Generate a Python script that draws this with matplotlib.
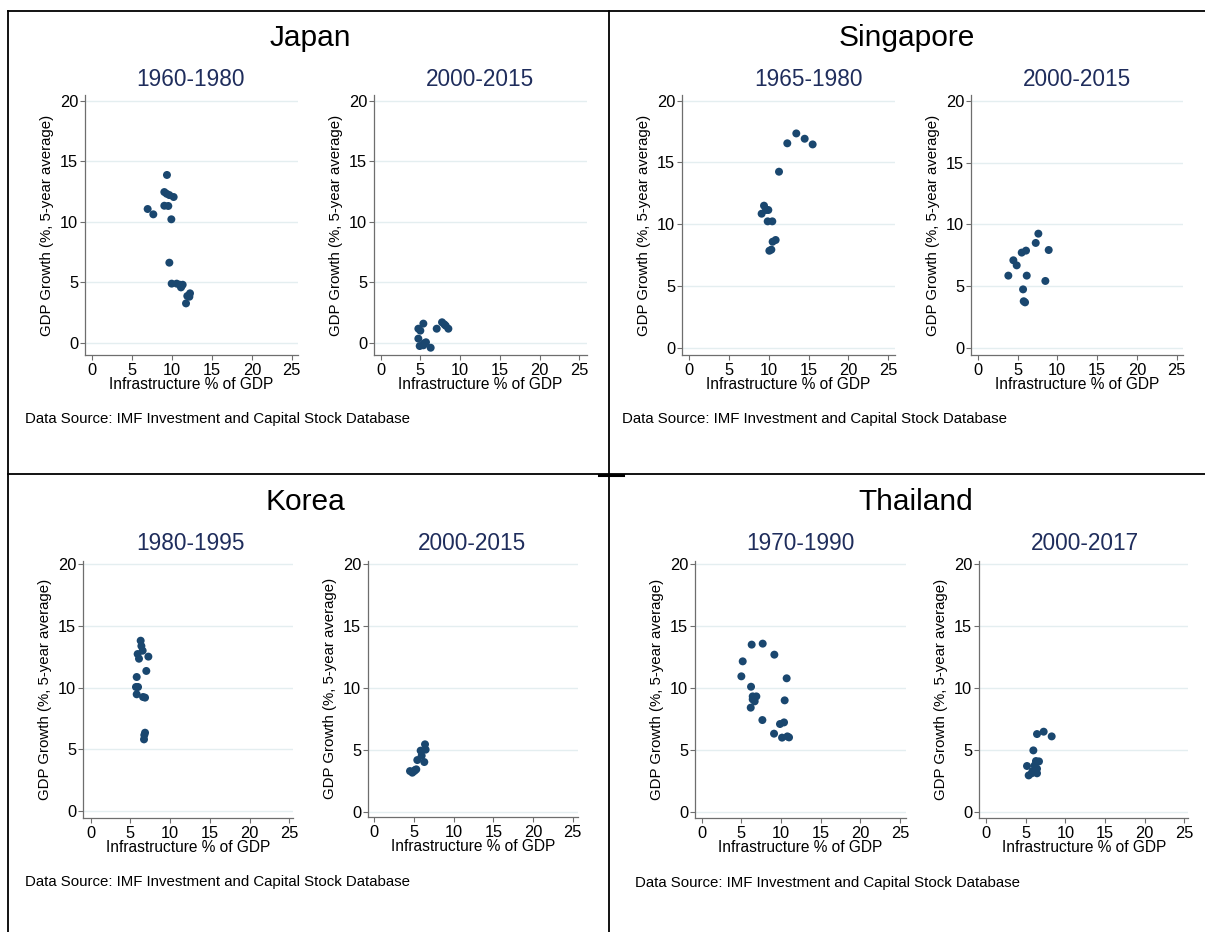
import numpy as np
import matplotlib
matplotlib.use("Agg")
import matplotlib.pyplot as plt
from matplotlib.lines import Line2D

plt.rcParams['font.family'] = ['Liberation Sans', 'DejaVu Sans']

W, H = 1205, 932
NAVY = '#1a476f'

# ---- data (infrastructure % of GDP, GDP growth %) ----
japan_early_x = [6.94, 7.65, 9.36, 9.03, 9.32, 9.66, 10.2, 9.03, 9.53, 9.91, 9.66,
                 9.95, 10.58, 10.95, 11.2, 11.33, 11.12, 11.75, 11.91, 12.25, 12.17]
japan_early_y = [11.06, 10.62, 13.87, 12.46, 12.32, 12.21, 12.05, 11.33, 11.31, 10.21, 6.63,
                 4.90, 4.90, 4.81, 4.73, 4.81, 4.59, 3.27, 3.88, 4.10, 3.82]
japan_late_x = [4.74, 4.99, 5.37, 4.74, 4.91, 5.37, 5.70, 6.29, 7.05, 7.72, 8.18, 8.52, 8.01, 5.45]
japan_late_y = [1.18, 1.02, 1.60, 0.36, -0.25, -0.19, 0.06, -0.39, 1.18, 1.71, 1.43, 1.18, 1.54, -0.03]

sing_early_x = [13.46, 12.33, 14.51, 15.51, 11.29, 9.11, 9.41, 9.66, 9.95, 9.87, 10.45,
                10.49, 10.87, 10.08, 10.33]
sing_early_y = [17.35, 16.55, 16.92, 16.46, 14.25, 10.85, 11.50, 11.15, 11.15, 10.23, 10.23,
                8.58, 8.72, 7.85, 7.94]
sing_late_x = [3.85, 4.48, 4.90, 5.53, 6.07, 6.16, 5.70, 5.78, 5.95, 7.29, 7.62, 8.92, 8.50]
sing_late_y = [5.87, 7.11, 6.70, 7.73, 7.89, 5.87, 4.76, 3.80, 3.71, 8.51, 9.26, 7.94, 5.44]

korea_early_x = [6.29, 6.38, 6.54, 5.91, 6.08, 7.26, 7.00, 5.79, 5.70, 5.96, 5.79, 6.59,
                 6.84, 6.84, 6.75, 6.71]
korea_early_y = [13.79, 13.36, 12.98, 12.71, 12.33, 12.50, 11.34, 10.85, 10.04, 10.04, 9.45,
                 9.23, 9.18, 6.34, 6.15, 5.80]
korea_late_x = [4.50, 4.79, 5.04, 5.29, 5.42, 5.84, 5.97, 6.30, 6.39, 6.47, 5.13]
korea_late_y = [3.28, 3.15, 3.28, 3.42, 4.17, 4.93, 4.52, 4.01, 5.44, 5.01, 3.36]

thai_early_x = [6.30, 7.69, 9.16, 5.17, 5.00, 10.71, 6.22, 6.43, 6.89, 6.68, 6.43, 6.18,
                10.46, 7.65, 9.87, 10.38, 9.12, 10.13, 10.80, 11.01]
thai_early_y = [13.49, 13.57, 12.68, 12.14, 10.93, 10.77, 10.09, 9.31, 9.31, 8.91, 9.07, 8.40,
                8.99, 7.40, 7.08, 7.21, 6.30, 5.98, 6.08, 6.00]
thai_late_x = [6.43, 7.27, 8.28, 5.97, 5.17, 6.30, 6.68, 6.13, 6.43, 5.88, 5.38, 5.76, 6.43]
thai_late_y = [6.27, 6.46, 6.08, 4.95, 3.69, 4.09, 4.06, 3.74, 3.47, 3.28, 2.93, 3.10, 3.10]

countries = ['Japan', 'Singapore', 'Korea', 'Thailand']
periods = [['1960-1980', '2000-2015'], ['1965-1980', '2000-2015'],
           ['1980-1995', '2000-2015'], ['1970-1990', '2000-2017']]
series = [[(japan_early_x, japan_early_y), (japan_late_x, japan_late_y)],
          [(sing_early_x, sing_early_y), (sing_late_x, sing_late_y)],
          [(korea_early_x, korea_early_y), (korea_late_x, korea_late_y)],
          [(thai_early_x, thai_early_y), (thai_late_x, thai_late_y)]]
source = 'Data Source: IMF Investment and Capital Stock Database'

# ---- layout in pixels: spine_x, x0, x25, right, axis_y, y0, y20, top ----
panel_px = [[(85, 92.3, 291.7, 298, 355, 343, 100.7, 95),
             (374.3, 380.7, 579.3, 587, 355, 343, 100.7, 95)],
            [(682.3, 689, 888.3, 895, 355, 347.7, 100.7, 95),
             (971, 977.7, 1176.7, 1183, 355, 348.3, 100.7, 95)],
            [(83.3, 90.7, 289.3, 293.3, 817.7, 811, 564, 560.7),
             (368.3, 374.3, 572.7, 577.7, 816.7, 811.7, 564, 560.7)],
            [(695, 701.7, 900, 905.7, 818, 811.7, 564, 560.7),
             (979.3, 986, 1184.3, 1188.3, 818, 811.7, 564, 560.7)]]
title_px = [(310, 38), (907, 38), (305, 502), (916, 502)]
sub_px = [[(190, 80), (480, 80)], [(809, 80), (1077, 80)],
          [(190, 543), (472, 543)], [(800, 543), (1085, 543)]]
source_px = [(25, 419), (622, 419), (25, 882), (635, 883)]

fig = plt.figure(figsize=(W / 100, H / 100), dpi=100)


def fx(px):
    return px / W


def fy(py):
    return 1 - py / H


for c in range(4):
    for k in range(2):
        sx, x0, x25, right, ay, y0, y20, top = panel_px[c][k]
        ppx = (x25 - x0) / 25
        ppy = (y0 - y20) / 20
        ax = fig.add_axes([fx(sx), fy(ay), (right - sx) / W, (ay - top) / H])
        ax.set_xlim((sx - x0) / ppx, (right - x0) / ppx)
        ax.set_ylim((y0 - ay) / ppy, (y0 - top) / ppy)
        ax.set_xticks([0, 5, 10, 15, 20, 25])
        ax.set_yticks([0, 5, 10, 15, 20])
        for yv in [0, 5, 10, 15, 20]:
            ax.axhline(yv, color='#e4eef0', lw=1.0, zorder=0)
        xs, ys = series[c][k]
        ax.scatter(xs, ys, s=33, color=NAVY, edgecolors='none', zorder=3)
        for side in ['top', 'right']:
            ax.spines[side].set_visible(False)
        for side in ['left', 'bottom']:
            ax.spines[side].set_color('#6e6e6e')
            ax.spines[side].set_linewidth(0.9)
        ax.tick_params(length=3.5, width=0.8, color='#6e6e6e', labelsize=11.8, pad=1.5)
        ax.tick_params(axis='x', pad=2.5)
        ax.set_xlabel('Infrastructure % of GDP', fontsize=11.2, labelpad=-1)
        ax.set_ylabel('GDP Growth (%, 5-year average)', fontsize=10.8, labelpad=4)
        ax.patch.set_alpha(0)
        fig.text(fx(sub_px[c][k][0]), fy(sub_px[c][k][1]), periods[c][k],
                 fontsize=16.3, color='#1f2d5c', ha='center', va='center')
    fig.text(fx(title_px[c][0]), fy(title_px[c][1]), countries[c],
             fontsize=21.5, color='black', ha='center', va='center')
    fig.text(fx(source_px[c][0]), fy(source_px[c][1]), source,
             fontsize=10.8, color='black', ha='left', va='center')

# table borders
border = dict(color='black', lw=1.3, transform=fig.transFigure)
fig.add_artist(Line2D([fx(8), 1], [fy(11), fy(11)], **border))
fig.add_artist(Line2D([fx(8), 1], [fy(474), fy(474)], **border))
fig.add_artist(Line2D([fx(8), fx(8)], [fy(11), 0], **border))
fig.add_artist(Line2D([fx(609), fx(609)], [fy(11), 0], **border))
fig.add_artist(Line2D([fx(599), fx(623)], [fy(475.5), fy(475.5)], color='black', lw=2.2,
                      transform=fig.transFigure))

fig.savefig('out.png', dpi=100)
